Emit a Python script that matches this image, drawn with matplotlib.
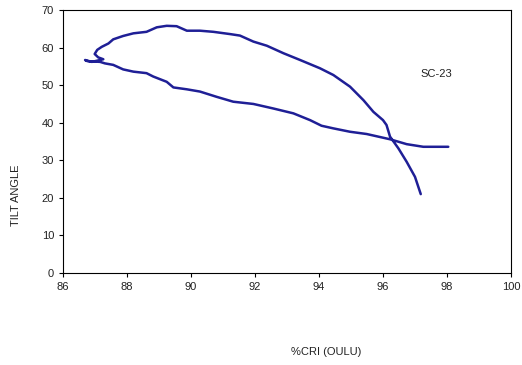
import matplotlib
matplotlib.use('Agg')
import matplotlib.pyplot as plt

plt.rcParams['font.family'] = ['Liberation Sans', 'DejaVu Sans']

# one continuous trace: from the bottom right end, round the loop, out to the right
cri = [97.18, 97.0, 96.74, 96.48, 96.22, 96.11, 96.0, 95.70, 95.39, 94.97, 94.45,
       94.03, 93.41, 92.89, 92.37, 91.95, 91.53, 91.22, 90.70, 90.28, 89.87, 89.55,
       89.24, 88.93, 88.61, 88.20, 87.88, 87.57, 87.42, 87.21, 87.07, 86.99, 87.10,
       87.26, 86.90, 86.69, 86.76, 87.16, 87.31,
       87.57, 87.88, 88.20, 88.61, 88.82, 89.24, 89.45, 89.87, 90.28, 90.80, 91.32,
       91.95, 92.57, 93.20, 93.72, 94.08, 94.45, 94.97, 95.49, 96.22, 96.74, 97.26, 98.04]
tilt = [21.0, 25.6, 29.6, 33.2, 36.3, 39.4, 40.7, 42.9, 46.0, 49.6, 52.7,
        54.5, 56.7, 58.5, 60.5, 61.6, 63.2, 63.6, 64.2, 64.5, 64.5, 65.7,
        65.8, 65.4, 64.2, 63.8, 63.1, 62.2, 61.1, 60.2, 59.4, 58.3, 57.4,
        56.9, 56.2, 56.7, 56.4, 56.2, 55.8,
        55.4, 54.2, 53.6, 53.2, 52.3, 50.9, 49.4, 48.9, 48.3, 46.9, 45.6,
        45.0, 43.8, 42.5, 40.7, 39.2, 38.5, 37.6, 37.0, 35.6, 34.3, 33.6, 33.6]

xticks = [86, 88, 90, 92, 94, 96, 98, 100]
yticks = [0, 10, 20, 30, 40, 50, 60, 70]

fig = plt.figure(figsize=(5.22, 3.65), dpi=100)
ax = fig.add_axes([0.1207, 0.252, 0.8582, 0.7205])

ax.plot(cri, tilt, color='#1f1f96', linewidth=1.8,
        solid_joinstyle='round', solid_capstyle='round')
ax.text(97.68, 53.0, 'SC-23', fontsize=8, ha='center', va='center', color='#222222')

ax.set_xlim(86, 100)
ax.set_ylim(0, 70)
ax.set_xticks(xticks)
ax.set_yticks(yticks)
ax.tick_params(labelsize=8, length=3, width=0.8, direction='out', labelcolor='#222222')
for s in ax.spines.values():
    s.set_linewidth(0.8)

fig.text(0.625, 0.035, '%CRI (OULU)', fontsize=8, ha='center', va='center', color='#222222')
fig.text(0.03, 0.465, 'TILT ANGLE', fontsize=8, ha='center', va='center', rotation=90,
         color='#222222')

fig.savefig('out.png', dpi=100)
